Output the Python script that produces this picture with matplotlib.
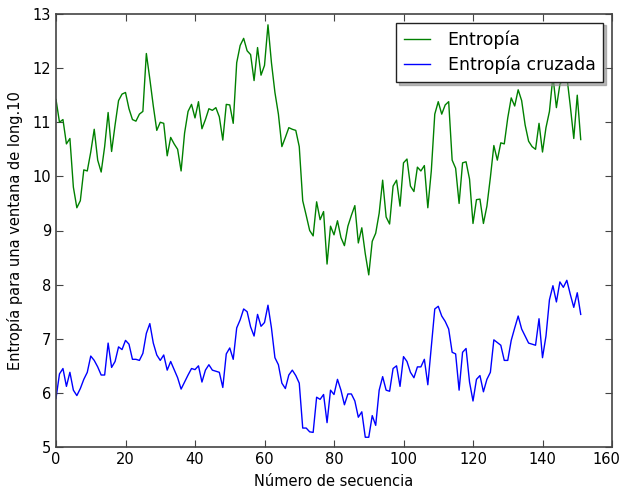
import matplotlib
matplotlib.use('Agg')
import matplotlib.pyplot as plt
import matplotlib.transforms as mtransforms

# Entropía (ventana de long. 10)
entropia = [11.42, 11.0, 11.05, 10.6, 10.7, 9.8, 9.42, 9.55, 10.12, 10.1,
            10.45, 10.87, 10.3, 10.08, 10.55, 11.18, 10.46, 10.95, 11.4, 11.52,
            11.55, 11.25, 11.05, 11.02, 11.15, 11.2, 12.27, 11.8, 11.3, 10.85,
            11.0, 10.98, 10.38, 10.72, 10.6, 10.5, 10.1, 10.8, 11.2, 11.33,
            11.08, 11.38, 10.88, 11.05, 11.25, 11.22, 11.27, 11.1, 10.67, 11.33,
            11.32, 10.98, 12.1, 12.42, 12.55, 12.32, 12.25, 11.77, 12.38, 11.87,
            12.05, 12.8, 12.1, 11.55, 11.15, 10.55, 10.72, 10.9, 10.87, 10.85,
            10.55, 9.55, 9.28, 9.0, 8.9, 9.53, 9.2, 9.35, 8.38, 9.08,
            8.92, 9.18, 8.87, 8.72, 9.08, 9.28, 9.46, 8.77, 9.05, 8.57,
            8.18, 8.8, 8.95, 9.32, 9.93, 9.25, 9.12, 9.82, 9.93, 9.45,
            10.25, 10.32, 9.82, 9.72, 10.17, 10.1, 10.2, 9.42, 10.1, 11.15,
            11.38, 11.15, 11.32, 11.38, 10.3, 10.15, 9.5, 10.25, 10.27, 9.95,
            9.13, 9.57, 9.58, 9.13, 9.45, 9.98, 10.57, 10.3, 10.62, 10.6,
            11.08, 11.45, 11.3, 11.6, 11.4, 10.95, 10.65, 10.55, 10.5, 10.98,
            10.45, 10.9, 11.2, 11.85, 11.27, 11.7, 11.8, 11.85, 11.3, 10.7,
            11.5, 10.68]

# Entropía cruzada
cruzada = [5.9, 6.35, 6.45, 6.12, 6.38, 6.05, 5.95, 6.08, 6.25, 6.38,
           6.68, 6.6, 6.48, 6.33, 6.33, 6.92, 6.47, 6.58, 6.85, 6.8,
           6.97, 6.9, 6.62, 6.62, 6.6, 6.73, 7.1, 7.28, 6.92, 6.7,
           6.6, 6.7, 6.42, 6.58, 6.43, 6.28, 6.07, 6.2, 6.33, 6.45,
           6.43, 6.5, 6.2, 6.42, 6.52, 6.42, 6.4, 6.38, 6.1, 6.72,
           6.83, 6.62, 7.2, 7.35, 7.55, 7.5, 7.22, 7.05, 7.45, 7.23,
           7.3, 7.62, 7.2, 6.65, 6.52, 6.18, 6.08, 6.33, 6.42, 6.32,
           6.18, 5.35, 5.35, 5.28, 5.27, 5.92, 5.88, 5.97, 5.45, 6.05,
           5.97, 6.25, 6.05, 5.78, 5.98, 5.98, 5.85, 5.55, 5.65, 5.18,
           5.18, 5.58, 5.4, 6.05, 6.3, 6.05, 6.03, 6.45, 6.5, 6.12,
           6.67, 6.58, 6.38, 6.28, 6.48, 6.48, 6.62, 6.15, 6.85, 7.55,
           7.6, 7.42, 7.32, 7.18, 6.75, 6.72, 6.05, 6.75, 6.82, 6.2,
           5.85, 6.25, 6.32, 6.02, 6.25, 6.38, 6.98, 6.93, 6.88, 6.6,
           6.6, 6.97, 7.2, 7.42, 7.18, 7.05, 6.92, 6.9, 6.88, 7.37,
           6.65, 7.05, 7.72, 7.98, 7.68, 8.05, 7.95, 8.08, 7.82, 7.58,
           7.85, 7.45]

xticks = [0, 20, 40, 60, 80, 100, 120, 140, 160]
yticks = [5, 6, 7, 8, 9, 10, 11, 12, 13]

x = list(range(len(entropia)))

fig = plt.figure(figsize=(6.24, 4.91), dpi=100)
ax = fig.add_axes([56 / 624, 1 - 447 / 491, (612 - 56) / 624, (447 - 14) / 491])

ax.plot(x, entropia, color='g', lw=1, label='Entropía')
ax.plot(x, cruzada, color='b', lw=1, label='Entropía cruzada')

ax.set_xlim(0, 160)
ax.set_ylim(5, 13)
ax.set_xticks(xticks)
ax.set_yticks(yticks)
ax.tick_params(direction='in', top=True, right=True, labelsize=10.5, length=5,
               color='#444444')
for s in ax.spines.values():
    s.set_linewidth(1.2)
    s.set_color('#444444')
ax.set_xlabel('Número de secuencia', fontsize=10.5, labelpad=5)
ax.set_ylabel('Entropía para una ventana de long.10', fontsize=10.5, labelpad=7)

# el "160" queda pegado al borde derecho, se corre un poco a la izquierda
last = ax.xaxis.get_major_ticks()[-1].label1
last.set_transform(last.get_transform() +
                   mtransforms.ScaledTranslation(-4 / 72, 0, fig.dpi_scale_trans))

leg = ax.legend(loc='upper right', fontsize=12.5, fancybox=False,
                shadow={'color': '0.55', 'alpha': 0.6},
                framealpha=1, handlelength=1.5, handletextpad=1.0,
                borderpad=0.45, labelspacing=0.4, borderaxespad=0.5)
leg.get_frame().set_edgecolor('#222222')

fig.savefig('out.png', dpi=100)
